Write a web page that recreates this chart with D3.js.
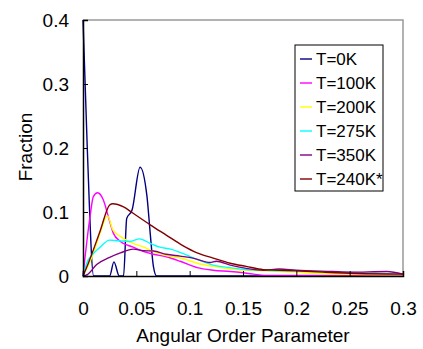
<!DOCTYPE html>
<html>
<head>
<meta charset="utf-8">
<script src="https://cdn.jsdelivr.net/npm/d3@7"></script>
<style>
  body { margin: 0; background: #fff; }
  svg text { font-family: "Liberation Sans", Arial, sans-serif; fill: #000; }
</style>
</head>
<body>
<script>
// angular order parameter distributions, [x, fraction]
const t0K = [
    [0, 0.4], [0.004, 0.2], [0.01, 0], [0.025, 0], [0.029, 0.022], [0.034, 0],
    [0.038, 0], [0.041, 0.09], [0.046, 0.103], [0.0535, 0.17], [0.06, 0.124],
    [0.063, 0.067], [0.066, 0.015], [0.069, 0], [0.3, 0]
];
const t100K = [
    [0, 0], [0.0066, 0.093], [0.0097, 0.124], [0.0137, 0.13], [0.019, 0.119],
    [0.0237, 0.093], [0.0284, 0.067], [0.035, 0.054], [0.047, 0.045], [0.057, 0.038],
    [0.066, 0.034], [0.078, 0.03], [0.091, 0.023], [0.107, 0.013], [0.122, 0.009],
    [0.138, 0.007], [0.15, 0.005], [0.16, 0.003], [0.17, 0.001], [0.3, 0.001]
];
const t200K = [
    [0, 0], [0.0097, 0.035], [0.016, 0.067], [0.023, 0.094], [0.028, 0.072],
    [0.035, 0.062], [0.047, 0.051], [0.057, 0.045], [0.066, 0.038], [0.078, 0.032],
    [0.094, 0.027], [0.107, 0.02], [0.122, 0.015], [0.138, 0.011], [0.153, 0.009],
    [0.169, 0.008], [0.185, 0.007], [0.2, 0.006], [0.22, 0.004], [0.3, 0.002]
];
const t275K = [
    [0, 0], [0.0034, 0.02], [0.0097, 0.035], [0.016, 0.045], [0.025, 0.056],
    [0.033, 0.055], [0.044, 0.054], [0.053, 0.058], [0.063, 0.051], [0.072, 0.045],
    [0.082, 0.042], [0.094, 0.035], [0.107, 0.026], [0.122, 0.017], [0.138, 0.013],
    [0.153, 0.01], [0.17, 0.009], [0.185, 0.008], [0.2, 0.008], [0.22, 0.007],
    [0.26, 0.005], [0.3, 0.003]
];
const t350K = [
    [0, 0], [0.004, 0.002], [0.0128, 0.018], [0.025, 0.029], [0.035, 0.036],
    [0.047, 0.042], [0.0566, 0.0395], [0.066, 0.039], [0.078, 0.034], [0.091, 0.031],
    [0.103, 0.028], [0.119, 0.021], [0.125, 0.023], [0.138, 0.017], [0.153, 0.012],
    [0.169, 0.009], [0.184, 0.011], [0.2, 0.009], [0.234, 0.007], [0.25, 0.006],
    [0.285, 0.007], [0.3, 0.003]
];
const t240K = [
    [0, 0], [0.005, 0.02], [0.016, 0.07], [0.025, 0.111], [0.028, 0.113],
    [0.038, 0.108], [0.047, 0.098], [0.063, 0.08], [0.078, 0.064], [0.094, 0.047],
    [0.107, 0.036], [0.122, 0.028], [0.138, 0.02], [0.153, 0.015], [0.169, 0.01],
    [0.184, 0.009], [0.2, 0.008], [0.225, 0.006], [0.256, 0.004], [0.3, 0.003]
];

const seriesNames = ['T=0K', 'T=100K', 'T=200K', 'T=275K', 'T=350K', 'T=240K*'];
const seriesColors = ['#000080', '#ff00ff', '#ffff00', '#00ffff', '#800080', '#800000'];
const seriesData = [t0K, t100K, t200K, t275K, t350K, t240K];

const xTicks = [0, 0.05, 0.1, 0.15, 0.2, 0.25, 0.3];
const yTicks = [0, 0.1, 0.2, 0.3, 0.4];

const width = 423;
const height = 349;

const svg = d3.select('body').append('svg').
    attr('width', width).
    attr('height', height);

const x = d3.scaleLinear().domain([0, 0.3]).range([83, 403]);
const y = d3.scaleLinear().domain([0, 0.4]).range([276, 20]);

// frame: gray top/right, axes drawn after the lines
svg.append('path').
    attr('d', `M${x(0)},${y(0.4)}H${x(0.3)}V${y(0)}`).
    attr('fill', 'none').
    attr('stroke', '#999').
    attr('stroke-width', 1.5);

const line = d3.line().
    x(d => x(d[0])).
    y(d => y(d[1])).
    curve(d3.curveMonotoneX);

svg.append('g').
    selectAll('path').
    data(seriesData).
    join('path').
    attr('d', line).
    attr('fill', 'none').
    attr('stroke', (d, i) => seriesColors[i]).
    attr('stroke-width', 1.4);

const xAxis = d3.axisBottom(x).
    tickValues(xTicks).
    tickSize(-5).
    tickPadding(26).
    tickFormat(d3.format('~g'));

const yAxis = d3.axisLeft(y).
    tickValues(yTicks).
    tickSize(-5).
    tickPadding(14).
    tickFormat(d3.format('~g'));

const gx = svg.append('g').
    attr('transform', `translate(0, ${y(0)})`).
    call(xAxis);

const gy = svg.append('g').
    attr('transform', `translate(${x(0)}, 0)`).
    call(yAxis);

[gx, gy].forEach(g => {
    g.select('.domain').attr('stroke', '#000').attr('stroke-width', 1.5);
    g.selectAll('.tick line').attr('stroke', '#000').attr('stroke-width', 1);
    g.selectAll('.tick text').
        attr('font-size', 19).
        attr('font-family', '"Liberation Sans", Arial, sans-serif');
});

svg.append('text').
    attr('x', 243).
    attr('y', 342).
    attr('text-anchor', 'middle').
    attr('font-size', 19).
    text('Angular Order Parameter');

svg.append('text').
    attr('transform', 'translate(32, 147) rotate(-90)').
    attr('text-anchor', 'middle').
    attr('font-size', 19).
    text('Fraction');

// legend
const legend = svg.append('g').attr('transform', 'translate(295, 45)');

legend.append('rect').
    attr('width', 88).
    attr('height', 146).
    attr('fill', '#fff').
    attr('stroke', '#000').
    attr('stroke-width', 1);

const item = legend.selectAll('g.item').
    data(seriesNames).
    join('g').
    attr('class', 'item').
    attr('transform', (d, i) => `translate(0, ${14 + i * 24})`);

item.append('line').
    attr('x1', 5).
    attr('x2', 17).
    attr('stroke', (d, i) => seriesColors[i]).
    attr('stroke-width', 1.4);

item.append('text').
    attr('x', 21).
    attr('dy', '0.35em').
    attr('font-size', 17).
    text(d => d);
</script>
</body>
</html>
